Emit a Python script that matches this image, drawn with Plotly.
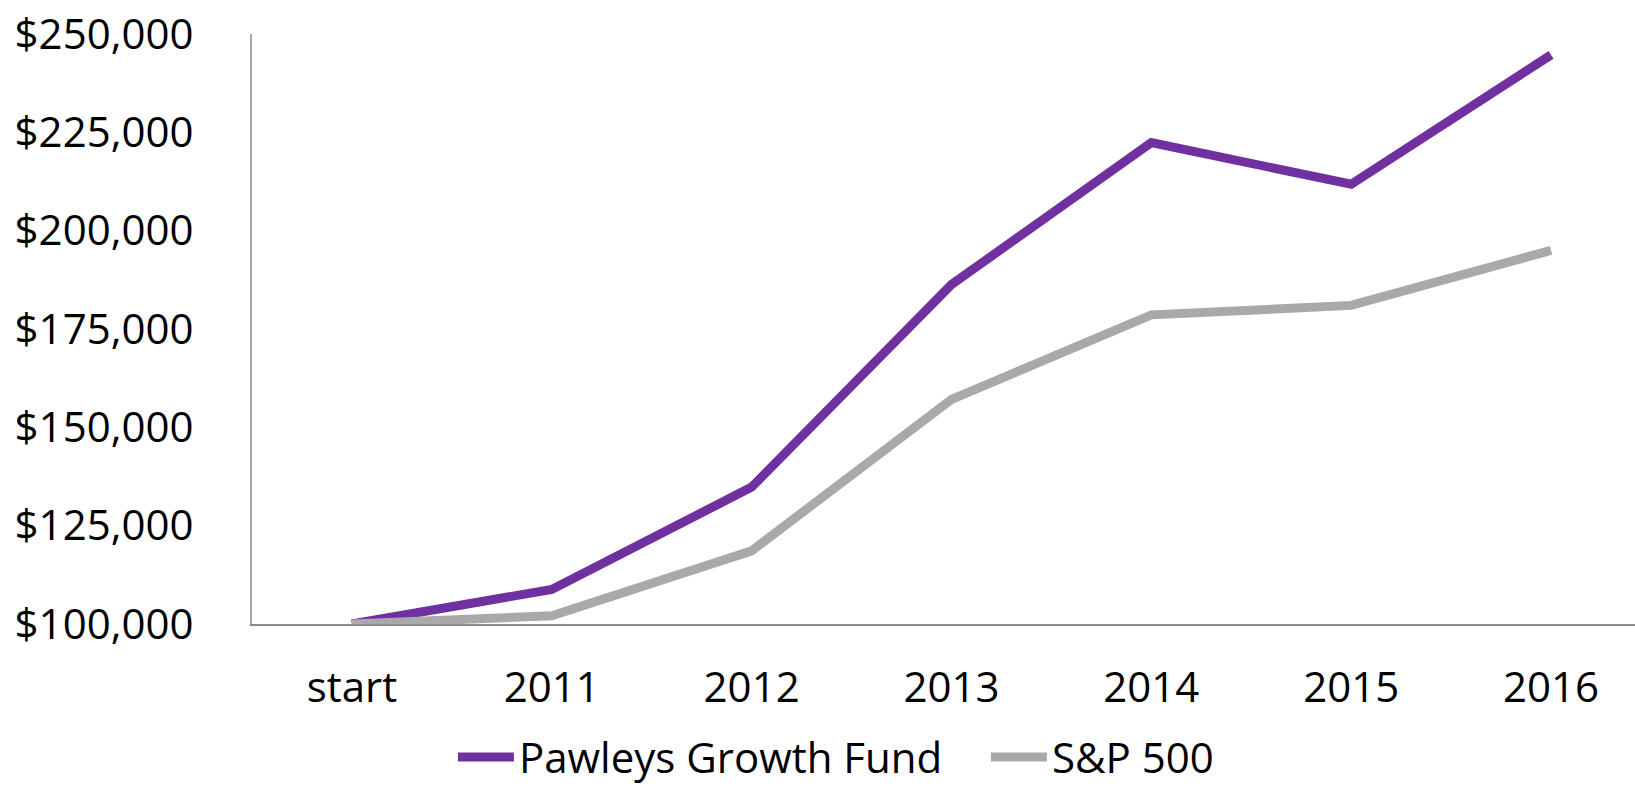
import plotly.graph_objects as go

categories = ["start", "2011", "2012", "2013", "2014", "2015", "2016"]
fund_values = [100000, 108800, 134800, 186300, 222400, 211800, 244700]
sp500_values = [100000, 102100, 118600, 157100, 178600, 181000, 195000]
y_ticks = [100000, 125000, 150000, 175000, 200000, 225000, 250000]

FONT = "Open Sans"

fig = go.Figure()
fig.add_trace(go.Scatter(
    x=list(range(len(categories))), y=fund_values, mode="lines",
    name="Pawleys Growth Fund",
    line=dict(color="#7030A0", width=9),
))
fig.add_trace(go.Scatter(
    x=list(range(len(categories))), y=sp500_values, mode="lines",
    name="S&P 500",
    line=dict(color="#A9A9A9", width=9),
))

fig.update_layout(
    width=1635, height=787,
    margin=dict(l=252, r=0, t=34, b=163),
    plot_bgcolor="white", paper_bgcolor="white",
    font=dict(family=FONT, size=42, color="black"),
    showlegend=True,
    legend=dict(
        orientation="h", xref="container", yref="container",
        x=0.277, y=0.038, xanchor="left", yanchor="middle",
        font=dict(family=FONT, size=42, color="black"),
        itemwidth=56, tracegroupgap=0,
        entrywidth=462, entrywidthmode="pixels",
    ),
    xaxis=dict(
        tickmode="array", tickvals=list(range(len(categories))), ticktext=categories,
        range=[-0.5, 6.42], showgrid=False, zeroline=False,
        showline=True, linecolor="#8C8C8C", linewidth=2,
        ticks="", ticklabelstandoff=26,
    ),
    yaxis=dict(
        range=[100000, 250000], tickmode="array", tickvals=y_ticks,
        tickformat="$,.0f", showgrid=False, zeroline=False,
        showline=True, linecolor="#A6A6A6", linewidth=2,
        ticks="", ticklabelstandoff=48,
    ),
)

fig.write_html("out.html")
